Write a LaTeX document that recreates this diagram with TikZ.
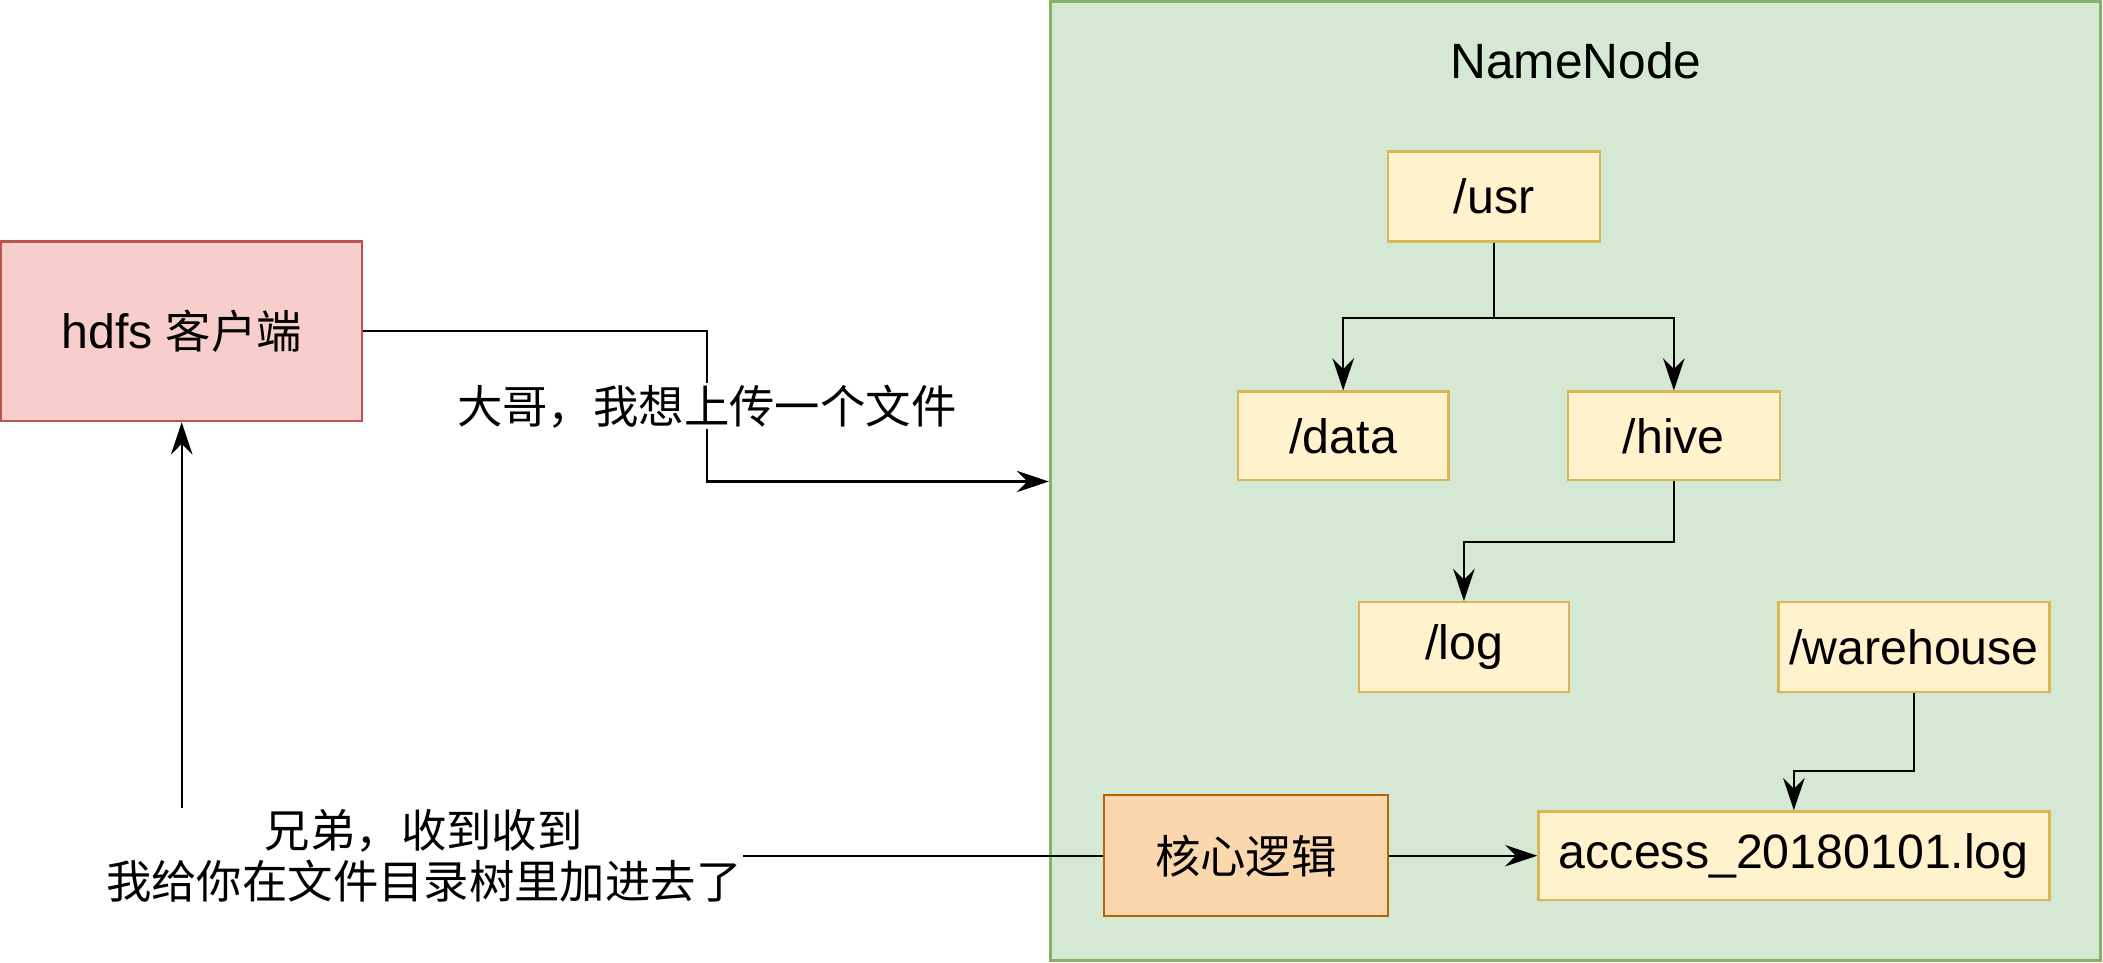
\documentclass[tikz,border=0pt]{standalone}
\usepackage{fontspec}
\setmainfont{Liberation Sans}
\newfontfamily\cjk[Scale=0.94]{Noto Sans CJK SC}
\usetikzlibrary{arrows.meta}
\definecolor{gfill}{HTML}{D5E8D4}\definecolor{gline}{HTML}{82B366}
\definecolor{rfill}{HTML}{F8CECC}\definecolor{rline}{HTML}{B85450}
\definecolor{yfill}{HTML}{FFF2CC}\definecolor{yline}{HTML}{D6B656}
\definecolor{ofill}{HTML}{FAD7AC}\definecolor{oline}{HTML}{B46504}
\begin{document}
\begin{tikzpicture}[x=1pt,y=-1pt,
  font=\fontsize{36}{42}\selectfont,
  dirbox/.style={draw=yline,fill=yfill,line width=1.7pt,inner sep=0pt,minimum height=67pt},
  arr/.style={line width=1.7pt,-{Stealth[length=24pt,width=16pt,inset=8pt]}},
  lab/.style={fill=white,inner sep=1pt,align=center,font=\fontsize{36}{38}\selectfont\cjk}]
\useasboundingbox (0,0) rectangle (1568,718);
\node[draw=gline,fill=gfill,line width=2pt,minimum width=783pt,minimum height=715pt,inner sep=0pt] (nn) at (1174.5,358.5) {};
\node[font=\fontsize{37}{42}\selectfont] (nnlab) at (1175,45) {NameNode};
\node[draw=rline,fill=rfill,line width=1.7pt,minimum width=269pt,minimum height=134pt,inner sep=0pt] (hdfs) at (135.5,247) {hdfs {\cjk 客户端}};
\node[dirbox,minimum width=158pt] (usr) at (1114,146.5) {/usr};
\node[dirbox,minimum width=157pt,minimum height=66pt] (data) at (1001.5,325) {/data};
\node[dirbox,minimum width=158pt,minimum height=66pt] (hive) at (1248,325) {/hive};
\node[dirbox,minimum width=157pt] (log) at (1091.5,482.5) {/log};
\node[dirbox,minimum width=202pt] (wh) at (1427,482.5) {/warehouse};
\node[dirbox,minimum width=381pt,minimum height=66pt] (acc) at (1337.5,638) {access\_20180101.log};
\node[draw=oline,fill=ofill,line width=1.7pt,minimum width=212pt,minimum height=90pt,inner sep=0pt,font=\fontsize{36}{42}\selectfont\cjk] (core) at (929,638) {核心逻辑};
\draw[arr] (usr.south) -- ++(0,56) -| (data.north);
\draw[arr] (usr.south) -- ++(0,56) -| (hive.north);
\draw[arr] (hive.south) -- ++(0,45) -| (log.north);
\draw[arr] (wh.south) -- ++(0,58) -| (acc.north);
\draw[arr] (core.east) -- (acc.west);
\coordinate (m1) at (527,359);
\draw[arr] (hdfs.east) -| (m1) -- (m1 -| nn.west);
\node[lab] (l1) at (527,303) {大哥，我想上传一个文件};
\draw[arr] (core.west) -| (hdfs.south);
\node[lab] (l2) at (316,638) {兄弟，收到收到\\我给你在文件目录树里加进去了};
\end{tikzpicture}
\end{document}
